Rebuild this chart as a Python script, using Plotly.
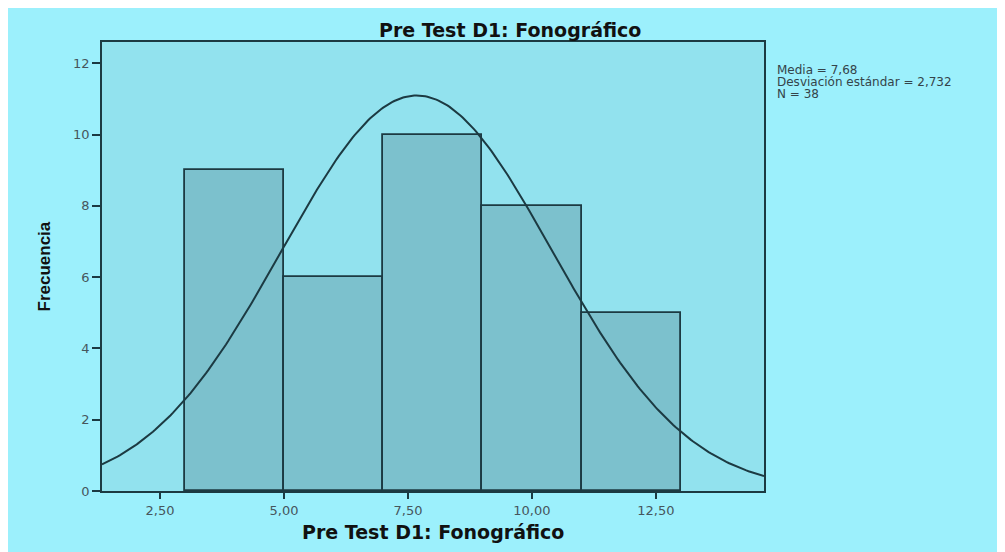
import numpy as np
import plotly.graph_objects as go

# Data
bin_centers = [4, 6, 8, 10, 12]
bin_width = 2
frequencies = [9, 6, 10, 8, 5]
media = 7.68
desviacion = 2.732
n_total = 38
x_tickvals = [2.5, 5.0, 7.5, 10.0, 12.5]
x_ticktext = ["2,50", "5,00", "7,50", "10,00", "12,50"]
y_tickvals = [0, 2, 4, 6, 8, 10, 12]
x_range = [1.33, 14.68]
y_range = [0, 12.6]

# Normal curve scaled to the histogram (from the stated mean / sd / N)
xc = np.linspace(x_range[0], x_range[1], 300)
yc = n_total * bin_width / (desviacion * np.sqrt(2 * np.pi)) * np.exp(-0.5 * ((xc - media) / desviacion) ** 2)

# Figure geometry (page has an 8px body margin)
W, H = 997, 544
L, R, T, B = 94, 756, 34, 483
PW, PH = R - L, B - T


def px(x):
    return (x - L) / PW


def py(y):
    return 1 - (y - T) / PH


DARK = "#1c3a42"
fig = go.Figure()
fig.add_trace(go.Bar(
    x=bin_centers, y=frequencies, width=[bin_width] * len(bin_centers),
    marker=dict(color="#7cc1cd", line=dict(color=DARK, width=1.8)),
    hoverinfo="skip", showlegend=False,
))
fig.add_trace(go.Scatter(
    x=xc, y=yc, mode="lines", line=dict(color=DARK, width=2),
    hoverinfo="skip", showlegend=False,
))

tickfont = dict(family="DejaVu Sans, sans-serif", size=13, color="#46565c")
bold_font = dict(family="DejaVu Sans, sans-serif", size=19, color="#111", weight="bold")

stats_lines = [
    f"Media = {media:.2f}".replace(".", ","),
    f"Desviación estándar = {desviacion:.3f}".replace(".", ","),
    f"N = {n_total}",
]
annotations = []
for i, line in enumerate(stats_lines):
    annotations.append(dict(
        text=line, xref="paper", yref="paper", x=px(767), y=py(62 + 12 * i),
        xanchor="left", yanchor="middle", align="left", showarrow=False,
        font=dict(family="DejaVu Sans, sans-serif", size=12, color="#34444a"),
    ))
annotations.append(dict(
    text="Pre Test D1: Fonográfico", xref="paper", yref="paper", x=px(502), y=py(22),
    xanchor="center", yanchor="middle", showarrow=False, font=bold_font,
))
annotations.append(dict(
    text="Pre Test D1: Fonográfico", xref="paper", yref="paper", x=0.5, y=py(524),
    xanchor="center", yanchor="middle", showarrow=False, font=bold_font,
))
annotations.append(dict(
    text="Frecuencia", xref="paper", yref="paper", x=px(36), y=0.5, textangle=-90,
    xanchor="center", yanchor="middle", showarrow=False,
    font=dict(family="Liberation Sans Narrow, Arial Narrow, sans-serif", size=17,
              color="#111", weight="bold"),
))

fig.update_layout(
    width=W, height=H,
    margin=dict(l=L, r=W - R, t=T, b=H - B, pad=0),
    paper_bgcolor="#9cf0fc",
    plot_bgcolor="#92e2ee",
    bargap=0,
    xaxis=dict(range=x_range, tickvals=x_tickvals, ticktext=x_ticktext,
               ticks="outside", ticklen=6, tickcolor=DARK, tickwidth=1.8,
               showline=True, linecolor=DARK, linewidth=1.8, mirror=True,
               showgrid=False, zeroline=False, tickfont=tickfont),
    yaxis=dict(range=y_range, tickvals=y_tickvals,
               ticks="outside", ticklen=8, tickcolor=DARK, tickwidth=1.8,
               showline=True, linecolor=DARK, linewidth=1.8, mirror=True,
               showgrid=False, zeroline=False, tickfont=tickfont),
    annotations=annotations,
)

fig.write_html("out.html")
